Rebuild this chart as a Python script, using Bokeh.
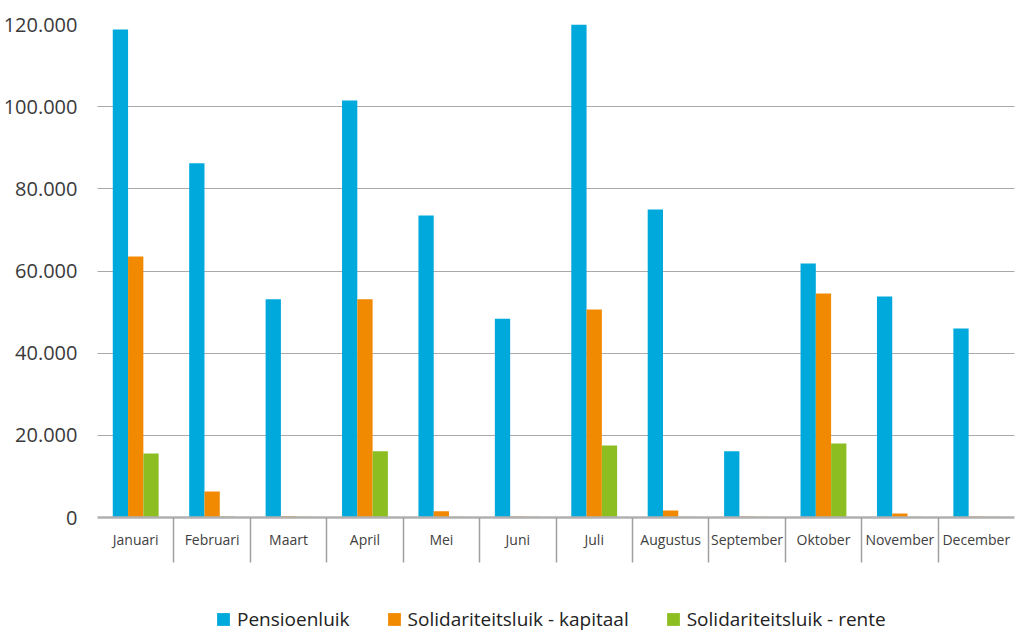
from bokeh.plotting import figure
from bokeh.layouts import column
from bokeh.models import ColumnDataSource, Range1d, FixedTicker, Legend, LegendItem
from bokeh.transform import dodge
from bokeh.embed import file_html
from bokeh.resources import INLINE

months = ["Januari", "Februari", "Maart", "April", "Mei", "Juni", "Juli",
          "Augustus", "September", "Oktober", "November", "December"]
pensioenluik = [118800, 86200, 53100, 101500, 73500, 48400, 120000,
                75000, 16100, 61800, 53800, 46000]
sol_kapitaal = [63500, 6300, 300, 53100, 1500, 250, 50600,
                1700, 250, 54500, 1000, 250]
sol_rente = [15600, 250, 200, 16100, 200, 200, 17500,
             200, 200, 18000, 200, 200]
y_ticks = [0, 20000, 40000, 60000, 80000, 100000, 120000]
y_labels = ["0", "20.000", "40.000", "60.000", "80.000", "100.000", "120.000"]
series_names = ["Pensioenluik", "Solidariteitsluik - kapitaal", "Solidariteitsluik - rente"]
colors = ["#00A9DB", "#F18A00", "#8CBE22"]

FONT = "Open Sans"
centers = [i + 0.5 for i in range(len(months))]
source = ColumnDataSource(dict(x=centers, a=pensioenluik, b=sol_kapitaal, c=sol_rente))
keys = ["a", "b", "c"]
offsets = [-0.2, 0.0, 0.2]

p = figure(width=1015, height=600, output_backend="svg", toolbar_location=None,
           x_range=Range1d(0, len(months)), y_range=Range1d(0, 120000),
           min_border_left=90, min_border_right=1, min_border_top=24, min_border_bottom=83)
p.outline_line_color = None
p.background_fill_color = "white"
p.border_fill_color = "white"

for key, off, col in zip(keys, offsets, colors):
    p.vbar(x=dodge("x", off, range=p.x_range), top=key, width=0.2, bottom=0,
           source=source, fill_color=col, line_color=None)

# x axis: month labels at centres, separators as minor ticks at boundaries
p.xaxis.ticker = FixedTicker(ticks=centers, minor_ticks=list(range(1, len(months))))
p.xaxis.major_label_overrides = {c: m for c, m in zip(centers, months)}
p.xaxis.major_tick_line_color = None
p.xaxis.minor_tick_out = 45
p.xaxis.minor_tick_in = 0
p.xaxis.minor_tick_line_color = "#a0a0a0"
p.xaxis.minor_tick_line_width = 1.5
p.xaxis.axis_line_color = "#b0b0b0"
p.xaxis.axis_line_width = 2.5
p.xaxis.major_label_text_font = FONT
p.xaxis.major_label_text_font_size = "14px"
p.xaxis.major_label_text_color = "#404040"
p.xaxis.major_label_standoff = -33

# y axis
p.yaxis.ticker = FixedTicker(ticks=y_ticks)
p.yaxis.major_label_overrides = {t: l for t, l in zip(y_ticks, y_labels)}
p.yaxis.axis_line_color = None
p.yaxis.major_tick_line_color = None
p.yaxis.minor_tick_line_color = None
p.yaxis.major_label_text_font = FONT
p.yaxis.major_label_text_font_size = "20px"
p.yaxis.major_label_text_color = "#3a3a3a"
p.yaxis.major_label_standoff = 14

p.xgrid.grid_line_color = None
p.ygrid.grid_line_color = "#555555"
p.ygrid.grid_line_dash = "1 1"
p.ygrid.grid_line_width = 1

# legend in a strip below the chart (its bars lie far outside the strip's visible range)
p2 = figure(width=1015, height=40, output_backend="svg", toolbar_location=None,
            x_axis_type=None, y_axis_type=None, x_range=Range1d(0, len(months)),
            y_range=Range1d(200000, 300000), min_border=0)
p2.outline_line_color = None
p2.grid.grid_line_color = None
leg_renderers = [p2.vbar(x=dodge("x", off, range=p2.x_range), top=key, width=0.2, bottom=0,
                         source=source, fill_color=col, line_color=None)
                 for key, off, col in zip(keys, offsets, colors)]
legend = Legend(items=[LegendItem(label=n, renderers=[r]) for n, r in zip(series_names, leg_renderers)],
                orientation="horizontal", location=(118, 8),
                glyph_width=16, glyph_height=16, label_standoff=6, spacing=36,
                padding=0, margin=0, border_line_color=None, background_fill_alpha=0,
                label_text_font=FONT, label_text_font_size="19px", label_text_color="#222222",
                label_height=20)
p2.add_layout(legend, "center")

open("out.html", "w").write(file_html(column(p, p2, spacing=0), INLINE))
